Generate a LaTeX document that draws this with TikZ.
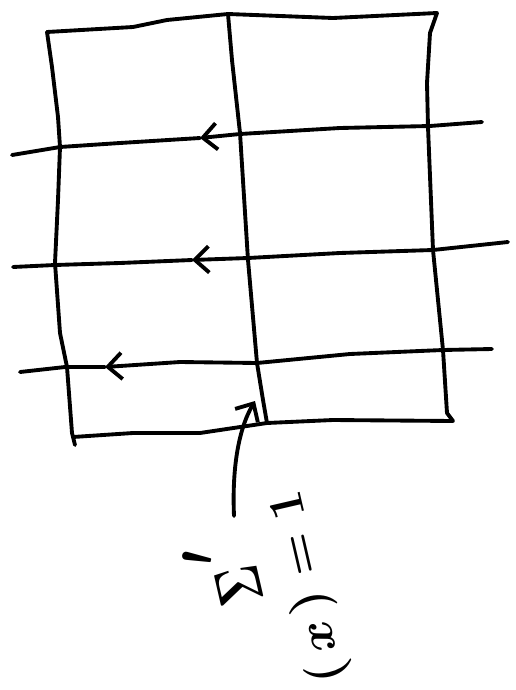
\RequirePackage{fix-cm}
\documentclass[tikz,border=0pt]{standalone}
\usepackage{amssymb}
\usepackage{xcolor}
\usepackage{tikz}
\usetikzlibrary{arrows.meta, calc}

\begin{document}
\begin{tikzpicture}[x=0.02cm, y=-0.02cm, >={Straight Barb[length=8pt, width=15pt]},
					pen/.style={line width=2.2pt, line cap=round, line join=round},
					ray/.style={pen, ->},
					hand/.style={font=\fontsize{28}{32}\selectfont\boldmath, inner sep=0pt, rotate=103}
				]
					\useasboundingbox (0,0) rectangle (516,690);
					
					% Corners
					\coordinate (tl) at (47,32);
					\coordinate (tm) at (228,14);
					\coordinate (tr) at (437,13);
					\coordinate (br) at (453,421);
					\coordinate (bm) at (267,423);
					\coordinate (bl) at (73,437);
					
					% Frame
					\draw[pen] (tl) -- (133,27) -- (167,20) -- (tm) -- (333,18) -- (tr)
						-- (430,33) -- (427,83) -- (428,127) -- (433,250) -- (443,350) -- (447,413) -- (br)
						-- (333,420) -- (bm) -- (200,433) -- (133,433) -- (bl);
					\draw[pen] (tl) -- (52,67) -- (58,117) -- (60,147) -- (58,200) -- (55,263)
						-- (60,333) -- (67,367) -- (72,433) -- (75,445);
					\draw[pen] (tm) -- (232,60) -- (240,133) -- (248,260) -- (257,363) -- (263,400) -- (bm);
					
					% Rays
					\coordinate (r1e) at (482,122);
					\coordinate (r1w) at (12,155);
					\coordinate (a1) at (200,138);
					\coordinate (r2e) at (508,242);
					\coordinate (r2w) at (13,267);
					\coordinate (a2) at (192,260);
					\coordinate (r3e) at (492,349);
					\coordinate (r3w) at (20,372);
					\coordinate (a3) at (105,367);
					
					\draw[ray] (r1e) -- (430,126) -- (340,128) -- (240,134) -- (a1);
					\draw[pen] (a1) -- (120,143) -- (60,147) -- (r1w);
					\draw[ray] (r2e) -- (433,250) -- (340,253) -- (248,258) -- (a2);
					\draw[pen] (a2) -- (120,263) -- (55,265) -- (r2w);
					\draw[ray] (r3e) -- (443,350) -- (350,354) -- (257,363) -- (180,362) -- (a3);
					\draw[pen] (a3) -- (65,367) -- (r3w);
					
					% Labels
					\node[hand] (val) at (309,587) {$(\,x\,)=1$};
					\node[hand, font=\fontsize{36}{40}\selectfont\boldmath] (sum) at (239,586) {\scalebox{0.75}[1]{$\Sigma$}};
					\node[hand, font=\fontsize{30}{34}\selectfont\boldmath] (mark) at (198,558) {$\prime$};
					
					% Pointer
					\coordinate (foot) at (234,516);
					\coordinate (tip) at (255,401);
					\draw[ray] (foot) .. controls (232,470) and (238,430) .. (tip);
				\end{tikzpicture}
\end{document}
